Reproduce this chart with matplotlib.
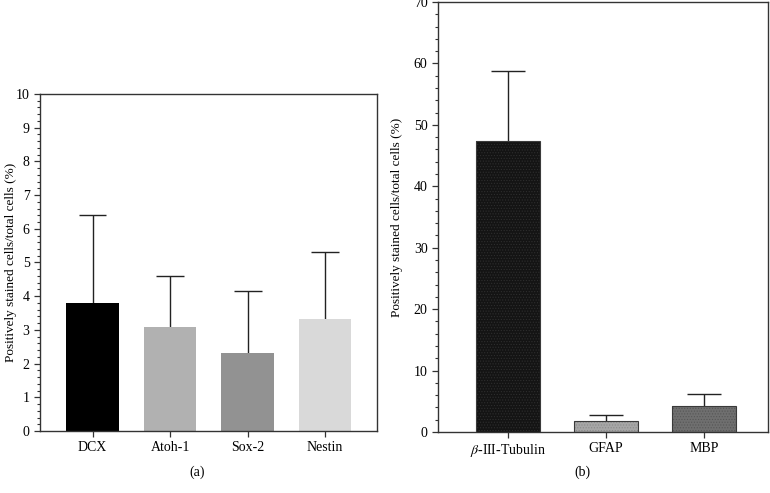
import matplotlib
matplotlib.use("Agg")
import matplotlib.pyplot as plt
from matplotlib.ticker import MultipleLocator

plt.rcParams.update({"font.family": "Liberation Serif", "mathtext.fontset": "stix",
                     "font.size": 10, "hatch.linewidth": 0.5})

# panel (a) - progenitor markers
A_LABELS = ["DCX", "Atoh-1", "Sox-2", "Nestin"]
A_MEAN = [3.81, 3.10, 2.30, 3.32]
A_ERR = [2.59, 1.50, 1.86, 1.98]
A_COLORS = ["#000000", "#b1b1b1", "#929292", "#d9d9d9"]

# panel (b) - differentiation markers
B_LABELS = [r"$\it{\beta}$-III-Tubulin", "GFAP", "MBP"]
B_MEAN = [47.3, 1.85, 4.25]
B_ERR = [11.5, 0.95, 1.9]
B_COLORS = ["#141414", "#a6a6a6", "#6f6f6f"]
B_HATCH = ["#2e2e2e", "#8a8a8a", "#565656"]

fig = plt.figure(figsize=(7.7, 4.93), dpi=100)
ax_a = fig.add_axes([0.052, 0.1258, 0.4377, 0.6836])
ax_b = fig.add_axes([0.5688, 0.1237, 0.4286, 0.8722])


def style(ax):
    for s in ax.spines.values():
        s.set_linewidth(1.0); s.set_color("#333333")
    ax.tick_params(axis="both", direction="out", length=4, width=0.9, color="#333333", labelsize=10)
    ax.tick_params(axis="y", which="minor", direction="out", length=2.5, width=0.8, color="#333333")
    ax.tick_params(axis="x", which="minor", bottom=False)
    ax.set_ylabel("Positively stained cells/total cells (%)", fontsize=9.5)


def upper_err(ax, xs, means, errs, half):
    # one-sided (upper) error bars with caps, as in the source figure
    tops = [m + e for m, e in zip(means, errs)]
    ax.vlines(xs, means, tops, color="#222222", lw=1.0, zorder=1)
    ax.hlines(tops, [x - half for x in xs], [x + half for x in xs], color="#222222", lw=1.0, zorder=1)


xs = list(range(len(A_LABELS)))
ax_a.bar(xs, A_MEAN, width=0.68, color=A_COLORS, zorder=2)
upper_err(ax_a, xs, A_MEAN, A_ERR, 0.18)
ax_a.set_xlim(-0.677, 3.67); ax_a.set_ylim(0, 10)
ax_a.set_xticks(xs); ax_a.set_xticklabels(A_LABELS)
ax_a.yaxis.set_major_locator(MultipleLocator(1))
ax_a.yaxis.set_minor_locator(MultipleLocator(0.2))
style(ax_a)
ax_a.yaxis.set_label_coords(-0.068, 0.5)

xb = list(range(len(B_LABELS)))
ax_b.bar(xb, B_MEAN, width=0.66, color=B_COLORS, edgecolor=B_HATCH, linewidth=0,
         hatch="......", zorder=2)
ax_b.bar(xb, B_MEAN, width=0.66, fill=False, edgecolor="#3a3a3a", linewidth=0.8, zorder=3)
upper_err(ax_b, xb, B_MEAN, B_ERR, 0.17)
ax_b.set_xlim(-0.714, 2.653); ax_b.set_ylim(0, 70)
ax_b.set_xticks(xb); ax_b.set_xticklabels(B_LABELS)
ax_b.yaxis.set_major_locator(MultipleLocator(10))
ax_b.yaxis.set_minor_locator(MultipleLocator(2))
style(ax_b)
ax_b.yaxis.set_label_coords(-0.105, 0.5)

fig.text(0.256, 0.043, "(a)", ha="center", va="center", fontsize=10)
fig.text(0.756, 0.043, "(b)", ha="center", va="center", fontsize=10)

fig.savefig("out.png", dpi=100)
